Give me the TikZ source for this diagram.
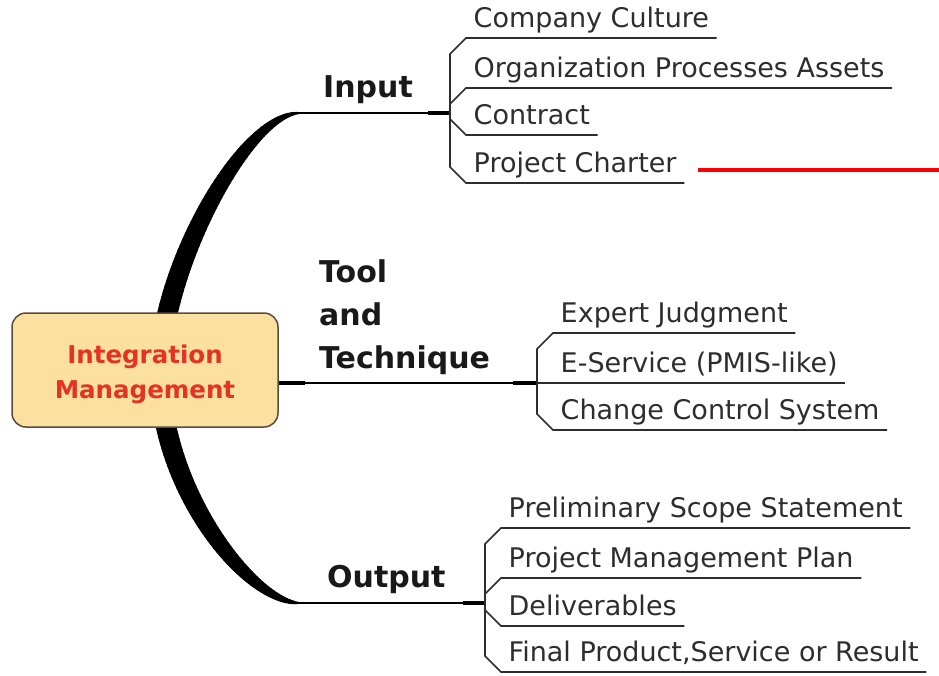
\documentclass[tikz,border=0pt]{standalone}
\usepackage{fontspec}
\setmainfont{DejaVu Sans}
\usetikzlibrary{calc}
\definecolor{nodefill}{RGB}{252,224,160}
\definecolor{nodeedge}{RGB}{90,75,60}
\definecolor{ctext}{RGB}{228,50,36}
\definecolor{ink}{RGB}{45,45,45}
\begin{document}
\begin{tikzpicture}[x=1pt,y=-1pt,
  leaf/.style={anchor=south west, inner xsep=7.5pt, inner ysep=0pt, text depth=10pt,
               font=\fontsize{27}{31}\selectfont, text=ink},
  branchlabel/.style={font=\bfseries\fontsize{30}{43}\selectfont, text=black!90, inner sep=0pt},
  conn/.style={draw=ink, line width=1.6pt},
  stem/.style={draw=black, line width=2pt},
  thickstem/.style={draw=black, line width=3.2pt},
  corebox/.style={draw=nodeedge, fill=nodefill, line width=1.5pt, rounded corners=14pt,
                  minimum width=266pt, minimum height=114pt},
  coretext/.style={align=center, font=\bfseries\fontsize{24.5}{35}\selectfont, text=ctext, inner sep=0pt}
]
\useasboundingbox (0,0) rectangle (939,675);

% spine points of the tapered main curve
\coordinate (cA) at (160,372);
\coordinate (sIn) at (300,113);
\coordinate (sOut) at (300,603);
\foreach \i in {0,...,60}{
  \path (cA) .. controls (160,270) and (245,113) .. (sIn) coordinate[pos=\i/60] (u\i);
  \path (cA) .. controls (160,490) and (250,603) .. (sOut) coordinate[pos=\i/60] (d\i);
}
\foreach \i in {0,...,59}{
  \pgfmathtruncatemacro\j{\i+1}
  \pgfmathsetmacro\w{1.6+19*(1-((\i+0.5)/60)^2.3)}
  \draw[black, line width=\w pt, line cap=round] (u\i) -- (u\j);
  \draw[black, line width=\w pt, line cap=round] (d\i) -- (d\j);
}

% central topic
\node[corebox] (core) at (145,370) {};
\node[coretext] (coretxt) at (145,374) {Integration\\Management};

% junctions
\coordinate (jIn) at (450,113);
\coordinate (jTool) at (537,383);
\coordinate (jOut) at (485,603);

% stems
\draw[stem] (sIn) -- (jIn);
\draw[thickstem] ($(jIn)+(-22,0)$) -- (jIn);
\draw[stem] (core.east |- jTool) -- (jTool);
\draw[thickstem] (core.east |- jTool) -- ++(26,0);
\draw[thickstem] ($(jTool)+(-24,0)$) -- (jTool);
\draw[stem] (sOut) -- (jOut);
\draw[thickstem] ($(jOut)+(-22,0)$) -- (jOut);

% branch labels
\node[branchlabel, anchor=base west] (lIn) at (323,97) {Input};
\node[branchlabel, anchor=north west, align=left] (lTool) at (319,259) {Tool\\and\\Technique};
\node[branchlabel, anchor=base west] (lOut) at (327,587) {Output};

% input leaves
\node[leaf] (cc)  at (466,38)  {Company Culture};
\node[leaf] (opa) at (466,88)  {Organization Processes Assets};
\node[leaf] (con) at (466,135) {Contract};
\node[leaf] (pch) at (466,183) {Project Charter};

% tool leaves
\node[leaf] (ej)  at (553,333) {Expert Judgment};
\node[leaf] (es)  at (553,383) {E-Service (PMIS-like)};
\node[leaf] (ccs) at (553,430) {Change Control System};

% output leaves
\node[leaf] (pss) at (501,528) {Preliminary Scope Statement};
\node[leaf] (pmp) at (501,578) {Project Management Plan};
\node[leaf] (del) at (501,626) {Deliverables};
\node[leaf] (fpr) at (501,672) {Final Product,Service or Result};

% input connectors
\draw[conn] (jIn) -- ($(jIn |- cc.south west)+(0,16)$) -- (cc.south west) -- (cc.south east);
\draw[conn] (jIn) -- ($(jIn |- opa.south west)+(0,16)$) -- (opa.south west) -- (opa.south east);
\draw[conn] (jIn) -- ($(jIn |- con.south west)+(0,-16)$) -- (con.south west) -- (con.south east);
\draw[conn] (jIn) -- ($(jIn |- pch.south west)+(0,-16)$) -- (pch.south west) -- (pch.south east);

% tool connectors
\draw[conn] (jTool) -- ($(jTool |- ej.south west)+(0,16)$) -- (ej.south west) -- (ej.south east);
\draw[conn] (jTool) -- (es.south west) -- (es.south east);
\draw[conn] (jTool) -- ($(jTool |- ccs.south west)+(0,-16)$) -- (ccs.south west) -- (ccs.south east);

% output connectors
\draw[conn] (jOut) -- ($(jOut |- pss.south west)+(0,16)$) -- (pss.south west) -- (pss.south east);
\draw[conn] (jOut) -- ($(jOut |- pmp.south west)+(0,16)$) -- (pmp.south west) -- (pmp.south east);
\draw[conn] (jOut) -- ($(jOut |- del.south west)+(0,-16)$) -- (del.south west) -- (del.south east);
\draw[conn] (jOut) -- ($(jOut |- fpr.south west)+(0,-16)$) -- (fpr.south west) -- (fpr.south east);

% red mark line
\coordinate (rA) at (698,170);
\coordinate (rB) at (939,170);
\draw[red, line width=4pt] (rA) -- (rB);
\end{tikzpicture}
\end{document}
